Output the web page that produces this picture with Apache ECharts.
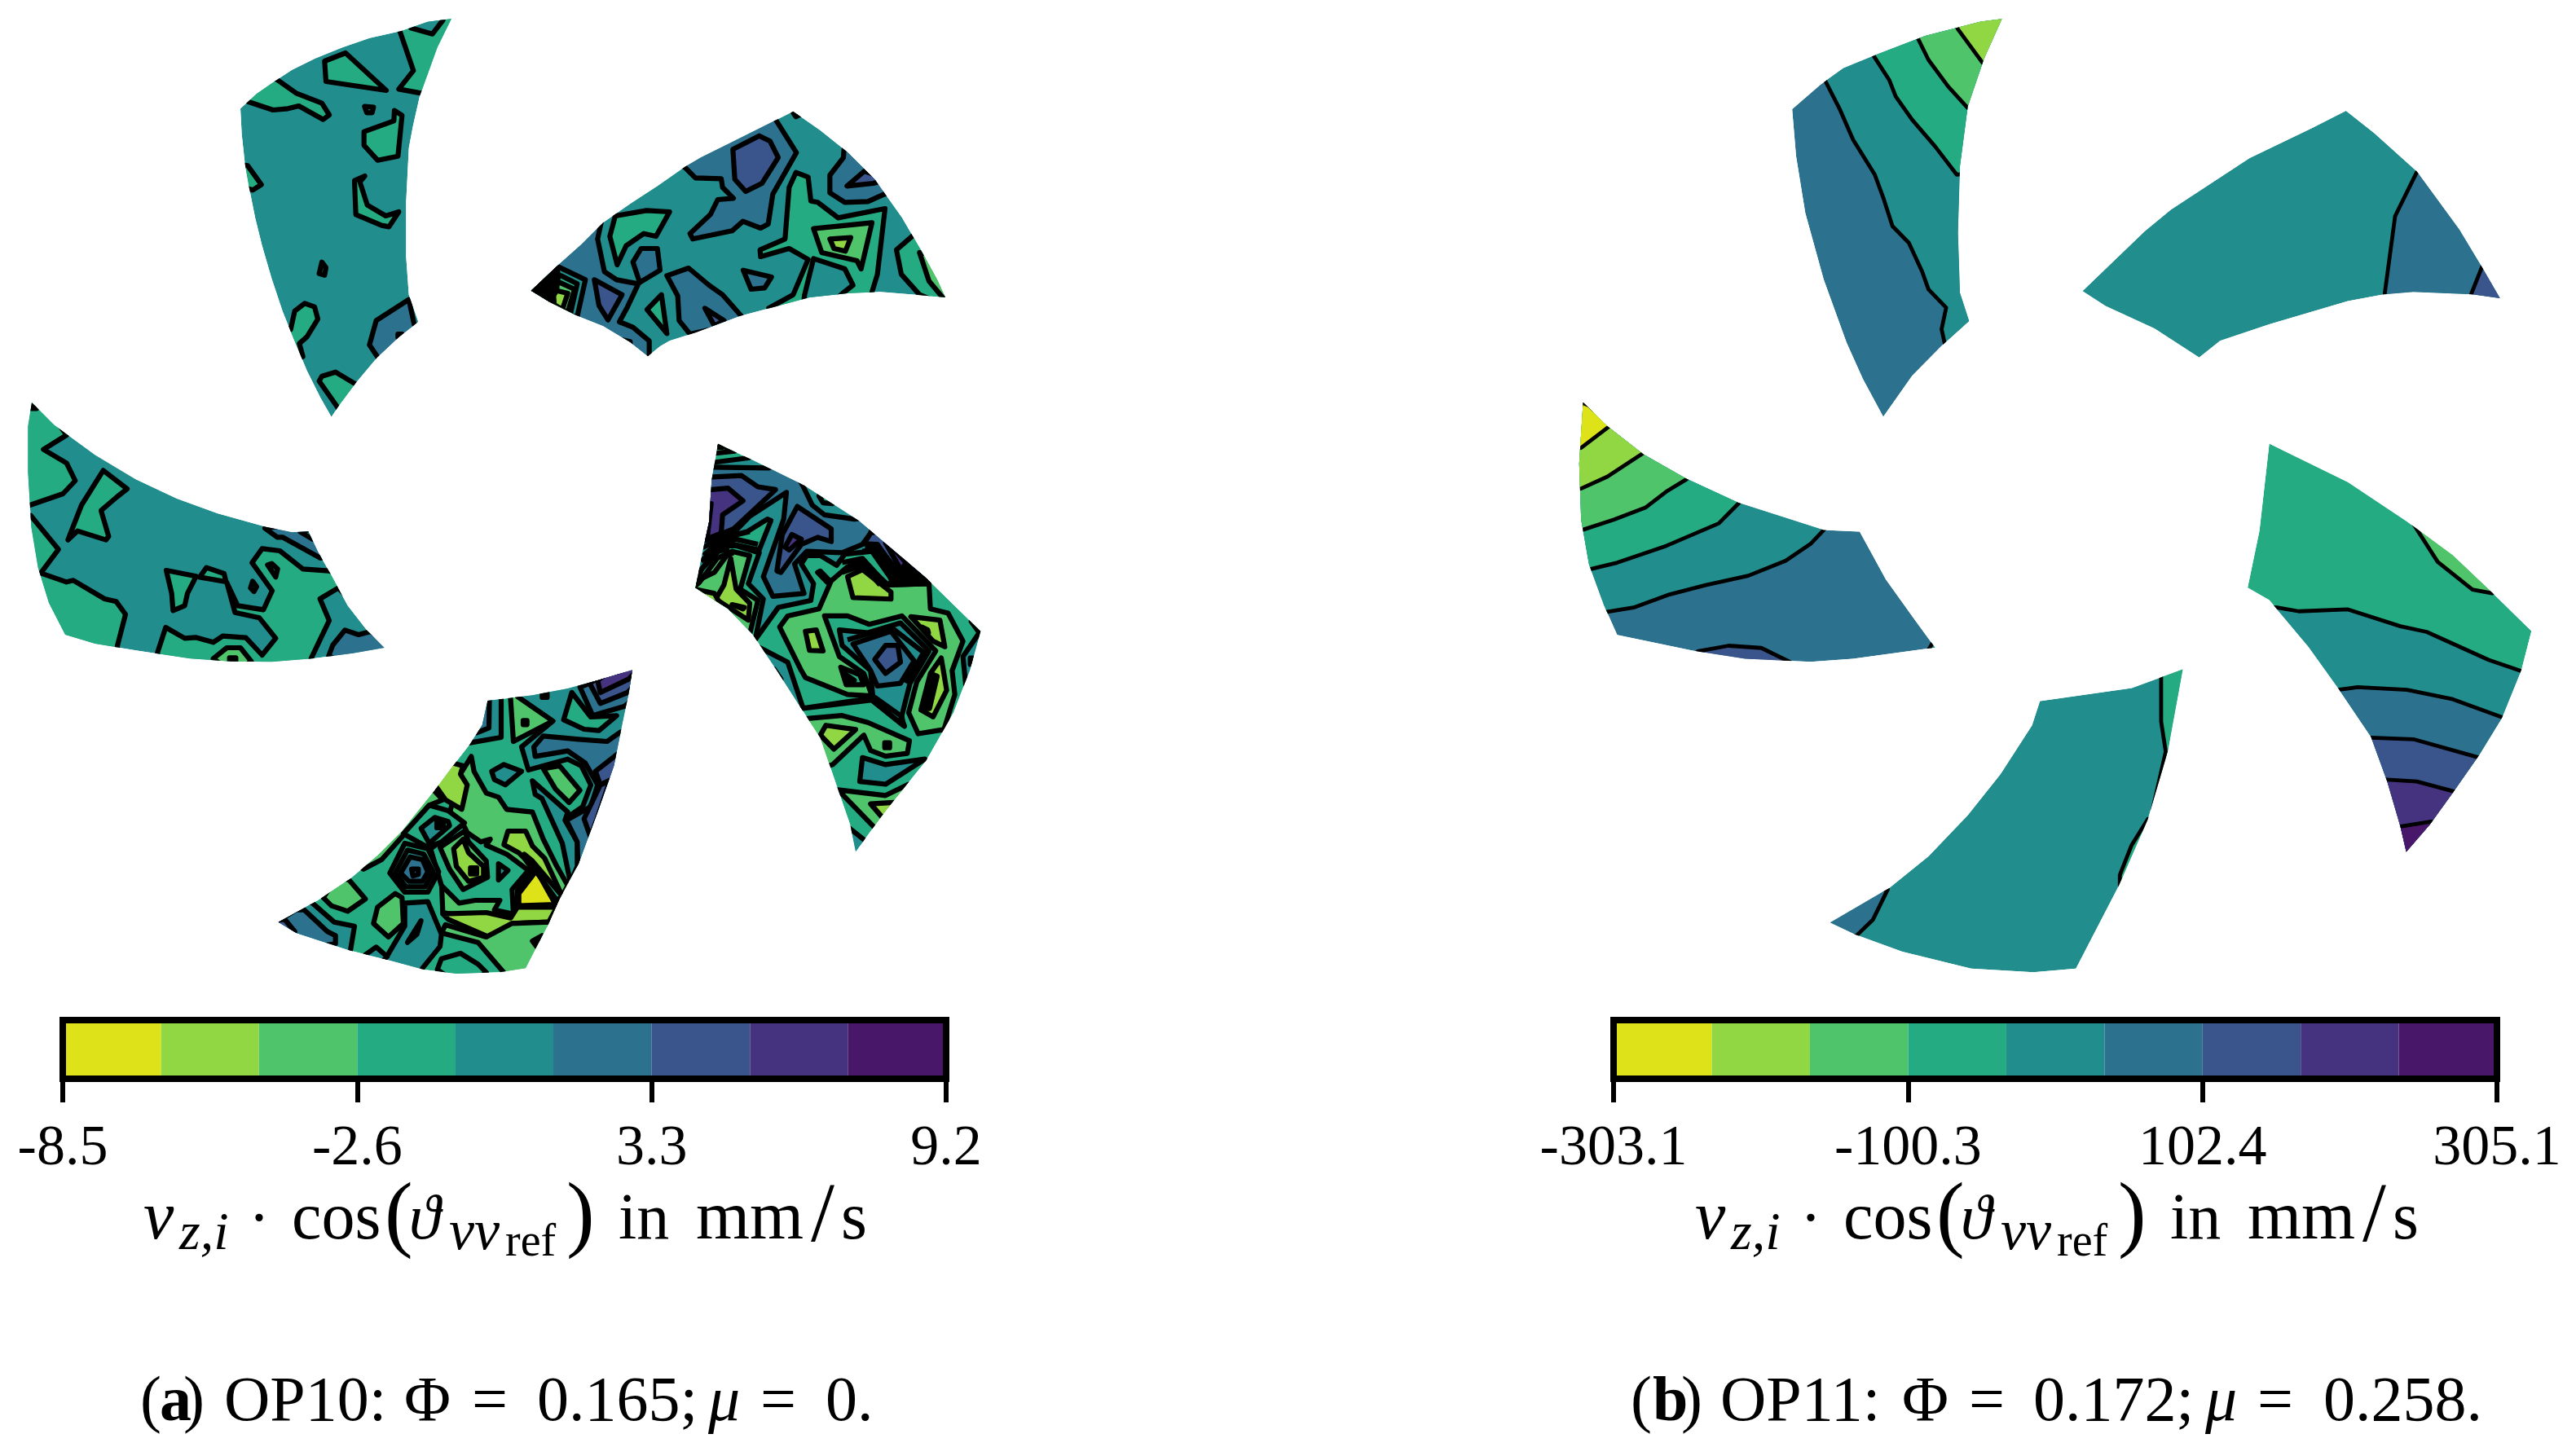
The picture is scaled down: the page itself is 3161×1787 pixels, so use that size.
<!DOCTYPE html>
<html>
<head>
<meta charset="utf-8">
<title>OP10 OP11</title>
<style>
  html, body { margin: 0; padding: 0; background: #fff; }
  #main { width: 3161px; height: 1787px; }
</style>
<script src="https://cdn.jsdelivr.net/npm/echarts@6/dist/echarts.min.js"></script>
</head>
<body>
<div id="main"></div>
<script>
// contour levels, yellow to purple
var levelColors = ["#dde318", "#90d743", "#50c46a", "#25ab82", "#218e8d", "#2c728e", "#3a548c", "#46337f", "#481769"];
var BLACK = 9;
var LINE = 10; // contour line only, no fill
var levelsA = [-8.5, -6.53, -4.57, -2.6, -0.63, 1.33, 3.3, 5.27, 7.23, 9.2];
var levelsB = [-303.1, -235.5, -167.9, -100.3, -32.7, 35, 102.4, 170, 237.5, 305.1];
var ticksA = [-8.5, -2.6, 3.3, 9.2];
var ticksB = [-303.1, -100.3, 102.4, 305.1];

// blade a1 (top left)
var outlineA1 = [822,24, 735,35, 640,68, 520,95, 420,130, 320,170, 235,212, 170,255, 105,300, 45,355, 50,450, 62,560, 78,650, 100,760, 125,860, 160,980, 200,1100, 240,1200, 290,1320, 340,1420, 380,1490, 410,1445, 470,1365, 550,1270, 630,1195, 700,1140, 665,1040, 655,900, 655,700, 665,500, 680,420, 705,310, 770,130];
var regionsA1 = [
  [3, [625,40, 632,70, 682,215, 628,283, 710,298, 800,310, 880,10, 640,10]],
  [4, [790,30, 752,80, 672,58, 660,20, 800,0]],
  [3, [355,180, 432,150, 582,288, 360,255]],
  [3, [182,250, 250,298, 345,335, 372,378, 350,395, 260,345, 220,355, 165,360, 75,330, 20,300, 100,200]],
  [4, [502,347, 535,350, 530,370, 510,370]],
  [3, [612,362, 640,380, 625,530, 550,545, 500,490, 500,440, 610,400]],
  [3, [72,565, 122,635, 90,655, 40,640, 40,560]],
  [3, [465,620, 503,603, 485,625, 512,710, 580,750, 628,735, 592,790, 565,785, 470,745]],
  [4, [345,920, 360,940, 355,968, 335,962]],
  [3, [230,1168, 245,1100, 282,1072, 318,1085, 330,1130, 290,1195, 262,1220, 275,1268, 200,1300, 170,1150]],
  [5, [665,1058, 685,1150, 750,1180, 600,1300, 550,1270, 520,1225, 545,1135]],
  [BLACK, [625,1185, 640,1185, 640,1197, 625,1197]],
  [3, [470,1370, 395,1325, 345,1340, 335,1358, 405,1458, 420,1520, 520,1450]]
];

// blade a2 (top right)
var outlineA2 = [35,680, 130,590, 220,510, 300,430, 400,360, 500,295, 600,225, 660,190, 760,140, 880,80, 1000,20, 1100,90, 1200,170, 1300,270, 1400,410, 1470,530, 1530,640, 1560,705, 1450,695, 1320,685, 1200,690, 1060,705, 950,735, 800,775, 640,835, 545,865, 510,885, 465,922, 400,870, 300,810, 200,770, 100,720];
var regionsA2 = [
  [5, [295,420, 280,490, 305,610, 350,640, 430,655, 390,740, 360,795, 410,815, 470,865, 470,950, 300,950, 0,700, 100,500]],
  [4, [130,590, 235,640, 205,775, 150,770, 20,690, 110,590]],
  [3, [145,625, 205,655, 180,765, 20,690]],
  [2, [140,650, 195,675, 170,760, 30,690]],
  [1, [130,680, 170,690, 150,750, 100,720]],
  [BLACK, [128,590, 100,610, 35,680, 120,725, 118,700, 130,670, 135,620]],
  [6, [268,640, 370,695, 318,788, 285,735]],
  [3, [345,405, 460,385, 545,390, 495,480, 450,470, 385,515, 352,585, 325,480]],
  [5, [410,575, 440,525, 500,525, 510,605, 435,650]],
  [3, [515,695, 535,838, 462,750]],
  [5, [535,625, 615,597, 690,660, 740,695, 810,775, 800,800, 620,840, 580,790, 575,700]],
  [6, [675,745, 745,790, 710,810]],
  [5, [600,225, 640,265, 735,268, 740,300, 780,340, 722,345, 695,400, 620,470, 630,490, 775,460, 815,425, 880,450, 908,435, 925,325, 1012,172, 935,50, 900,20, 500,200]],
  [6, [778,160, 875,110, 915,130, 945,190, 885,285, 825,315, 785,270]],
  [3, [1010,245, 985,300, 970,490, 878,530, 880,555, 985,525, 1055,565, 1000,695, 910,745, 1000,800, 1280,760, 1290,685, 1310,620, 1338,378, 1165,412, 1090,355, 1065,350, 1055,262]],
  [4, [1075,562, 1190,600, 1220,660, 1182,690, 1100,760, 1040,710, 1042,695]],
  [2, [1075,452, 1290,430, 1250,600, 1235,570, 1105,540]],
  [1, [1135,490, 1212,485, 1192,535, 1150,525]],
  [5, [1187,158, 1185,190, 1135,255, 1135,320, 1190,355, 1275,352, 1335,325, 1500,300, 1250,100]],
  [6, [1262,240, 1198,295, 1295,285, 1350,270]],
  [3, [1440,478, 1380,530, 1398,620, 1465,695, 1600,750, 1620,600, 1500,450]],
  [2, [1465,540, 1500,645, 1550,705, 1600,720, 1600,560]],
  [5, [816,605, 920,630, 895,670, 845,675]],
  [4, [1000,25, 1010,40, 1025,32]],
  [5, [372,862, 400,868, 400,882, 375,870]]
];

// blade a3 (left)
var outlineA3 = [117,42, 200,125, 350,235, 500,325, 650,395, 800,450, 980,500, 1075,520, 1135,517, 1170,590, 1215,670, 1280,790, 1350,880, 1415,945, 1300,965, 1150,985, 1000,997, 850,995, 700,985, 500,955, 350,930, 240,897, 180,780, 140,650, 115,500, 103,300, 103,130];
var regionsA3 = [
  [3, [245,162, 160,215, 245,265, 277,330, 232,378, 110,420, 50,420, 50,20, 150,30]],
  [3, [380,292, 468,360, 430,390, 372,440, 400,535, 390,548, 285,515, 250,548, 300,420]],
  [3, [113,458, 215,583, 150,670, 245,703, 270,697, 385,765, 428,775, 462,822, 432,938, 432,1000, 200,960, 50,700, 60,460]],
  [3, [612,660, 722,682, 690,745, 680,790, 637,808, 632,745]],
  [3, [735,685, 760,650, 825,672, 832,702]],
  [3, [1210,662, 1115,655, 1030,588, 965,580, 928,632, 1002,735, 970,805, 875,790, 835,705, 865,815, 955,835, 1015,910, 965,972, 905,908, 820,902, 785,925, 720,907, 680,910, 610,870, 580,962, 580,1050, 1160,1050, 1145,985, 1195,880, 1212,845, 1178,765, 1245,725, 1300,780, 1300,680]],
  [5, [1210,975, 1225,935, 1270,880, 1320,897, 1365,885, 1450,950, 1300,1020]],
  [5, [975,505, 1020,538, 1040,538, 1180,615, 1250,600, 1150,480]],
  [4, [1105,518, 1150,545, 1180,500]],
  [4, [985,640, 1000,635, 1022,655, 1015,685]],
  [4, [930,700, 945,720, 935,738, 922,725]],
  [2, [785,985, 835,945, 885,945, 925,995, 860,1040]],
  [BLACK, [845,982, 868,982, 868,994, 845,994]],
  [BLACK, [115,52, 135,52, 135,64, 115,64]]
];

// blade a4 (right)
var outlineA4 = [183,72, 300,125, 500,220, 700,345, 950,550, 1150,740, 1110,880, 1050,1030, 950,1200, 800,1380, 690,1525, 670,1430, 620,1290, 560,1120, 480,1000, 400,880, 310,750, 220,660, 100,585, 130,440, 150,350, 160,200];
var regionsA4 = [
  [2, [600,560, 660,510, 715,490, 810,575, 960,570, 965,660, 1030,675, 1085,775, 1045,880, 1055,965, 1015,1090, 920,1105, 885,1030, 915,920, 985,810, 860,685, 740,715, 660,685, 575,685, 630,830, 720,890, 750,970, 660,965, 505,905, 490,880, 410,725, 440,685, 555,660]],
  [1, [893,688, 1000,700, 1018,795, 975,775]],
  [0, [935,725, 955,735, 958,745]],
  [1, [1005,835, 1025,950, 975,1045, 930,1020, 965,890]],
  [2, [978,895, 990,900, 962,1015, 948,1015]],
  [4, [630,735, 735,745, 855,710, 960,810, 890,925, 860,1040, 865,1075, 755,990, 750,940, 745,880, 640,790]],
  [LINE, [660,770, 820,725, 940,815, 875,925]],
  [5, [680,785, 820,740, 905,845, 855,925, 770,935, 745,880]],
  [6, [760,840, 800,790, 845,790, 855,850, 800,890]],
  [4, [490,1015, 750,985, 870,1078, 855,1040, 760,975, 700,985]],
  [1, [505,740, 545,735, 570,810, 520,808]],
  [3, [635,868, 705,895, 720,930, 655,930]],
  [1, [652,892, 685,915, 660,915]],
  [1, [660,545, 715,520, 820,600, 820,625, 680,620]],
  [2, [520,1050, 640,1040, 735,1065, 888,1130, 880,1175, 800,1185, 745,1165, 720,1110, 605,1215, 500,1250, 450,1060]],
  [1, [560,1110, 580,1075, 690,1090, 610,1160]],
  [BLACK, [797,1137, 815,1137, 815,1155, 797,1155]],
  [4, [715,1190, 800,1215, 945,1195, 800,1285, 705,1275]],
  [2, [625,1305, 800,1325, 885,1285, 1000,1300, 800,1500, 765,1445, 640,1320]],
  [1, [745,1355, 830,1350, 870,1400, 785,1400]],
  [4, [665,1440, 730,1490, 700,1600, 600,1500]],
  [4, [1115,705, 1145,745, 1085,830, 1095,930, 1300,950, 1300,700]],
  [BLACK, [1112,835, 1130,835, 1130,858, 1112,858]],
  [4, [320,790, 440,850, 495,1010, 450,1050, 250,800]],
  [4, [390,875, 415,910, 405,915, 385,885]],
  // upper half, painted from the outer band inwards
  [4, [150,140, 295,122, 400,60, 1100,500, 960,560, 830,572, 815,545, 750,455, 650,465, 620,505, 560,470, 510,470, 490,500, 535,570, 525,630, 405,655, 320,770, 270,760, 50,600, 50,140]],
  [4, [550,530, 560,525, 595,560, 585,565]],
  [3, [320,770, 350,625, 295,570, 335,460, 250,435, 190,435, 125,515, 105,560, 50,600, 100,640, 280,770]],
  [3, [190,435, 250,395, 290,385, 365,340, 378,345, 335,450, 250,432]],
  [2, [300,750, 330,630, 265,590, 300,470, 235,455, 180,480, 115,565, 50,620, 280,745]],
  [1, [230,480, 250,590, 300,640, 295,700, 175,625, 205,575]],
  [1, [100,590, 170,605, 190,640, 120,640]],
  [0, [235,645, 280,655, 275,660]],
  [5, [100,155, 165,155, 370,158, 440,130, 495,220, 530,290, 575,325, 685,340, 760,330, 745,390, 715,430, 640,460, 510,455, 465,500, 500,605, 385,615, 350,545, 425,340, 435,245, 300,330, 250,380, 130,440, 90,400]],
  [6, [100,190, 165,190, 270,185, 330,225, 395,235, 240,375, 140,415, 100,420]],
  [7, [160,235, 220,230, 275,275, 200,325, 195,390, 145,410, 100,400, 100,235]],
  [7, [158,285, 145,395, 100,395, 100,285]],
  [6, [475,295, 600,375, 600,420, 550,405, 490,430, 415,530, 400,525, 420,395]],
  [7, [430,440, 455,395, 490,412, 445,450]],
  [6, [745,390, 720,428, 770,430, 840,530, 900,560, 1000,540, 800,380]],
  [7, [800,425, 850,510, 910,545, 1000,520, 830,420]],
  [8, [830,445, 870,490, 900,480, 845,440]],
  [BLACK, [810,575, 950,570, 880,490, 850,530]],
  [3, [555,258, 570,282, 605,285, 620,250]],
  [2, [183,72, 245,98, 175,105, 100,100, 150,40]],
  [BLACK, [180,70, 198,70, 198,84, 180,84]],
  // tightly packed contours at the left tip and along the upper edge
  [LINE, [130,470, 180,425, 255,395, 300,385]],
  [LINE, [120,490, 185,438, 250,412, 330,430]],
  [LINE, [112,530, 185,455, 225,445]],
  [LINE, [105,560, 170,530, 215,470, 240,460]],
  [LINE, [640,495, 715,480, 800,570]],
  [LINE, [715,455, 760,445, 825,530, 860,570]],
  [LINE, [725,435, 775,440, 840,520, 880,565]],
  [LINE, [640,530, 715,505, 780,575]]
];

// blade a5 (bottom)
var outlineA5 = [1368,67, 1240,105, 1130,135, 1000,160, 835,180, 815,270, 770,340, 700,430, 640,510, 520,660, 430,750, 330,835, 210,915, 65,995, 130,1035, 330,1100, 470,1135, 600,1170, 720,1185, 880,1180, 975,1165, 1060,1000, 1100,910, 1170,780, 1240,590, 1300,420, 1330,270, 1355,150];
var regionsA5 = [
  [2, [735,450, 775,385, 785,440, 830,520, 875,535, 905,580, 1000,590, 1040,690, 1090,790, 1130,860, 1100,920, 1060,1000, 1100,1100, 900,1000, 670,960, 660,720]],
  [4, [945,165, 1075,255, 960,350, 985,435, 1130,395, 1180,420, 1215,490, 1185,570, 1120,615, 1165,700, 1165,790, 1200,800, 1400,400, 1400,50, 1000,100]],
  [4, [1000,475, 1130,590, 1120,620, 1165,700, 1165,790, 1140,850, 1110,705, 1035,540, 1010,525]],
  [5, [1005,350, 1040,310, 1170,322, 1275,330, 1325,295, 1420,290, 1300,800, 1168,795, 1165,700, 1125,620, 1215,570, 1240,490, 1195,410, 1130,365, 1010,385]],
  [2, [1040,430, 1100,420, 1175,510, 1135,555, 1085,505]],
  [6, [1315,375, 1232,440, 1250,490, 1290,470, 1400,400]],
  [6, [1190,615, 1250,490, 1285,475, 1237,618, 1213,680]],
  [3, [1145,150, 1115,250, 1190,285, 1245,290, 1310,235, 1215,240]],
  [5, [1175,130, 1222,235, 1340,200, 1400,150, 1300,80]],
  [6, [1210,115, 1250,190, 1350,150, 1400,100, 1300,70]],
  [7, [1240,105, 1250,150, 1355,100, 1400,50, 1300,60]],
  [2, [918,150, 945,150, 945,165, 1075,255, 930,330]],
  [BLACK, [966,253, 980,253, 980,268, 966,268]],
  [4, [885,150, 885,315, 770,335, 700,300, 780,150]],
  [5, [842,150, 840,280, 795,298, 750,250, 800,150]],
  [BLACK, [1036,152, 1054,152, 1054,168, 1036,168]],
  [4, [850,440, 895,415, 960,440, 900,490, 860,470]],
  [1, [710,410, 745,420, 735,450, 760,490, 740,580, 680,545, 648,500, 600,450]],
  [2, [378,800, 445,765, 530,670, 620,565, 670,545, 600,470, 300,750]],
  [3, [625,725, 745,635, 760,665, 810,700, 845,690, 830,712, 905,745, 985,805, 925,875, 930,965, 860,950, 880,915, 790,915, 730,925, 665,860]],
  [2, [660,720, 750,660, 765,700, 830,770, 835,830, 745,875, 695,800]],
  [1, [710,725, 745,690, 765,740, 820,790, 820,830, 765,845, 720,790]],
  [BLACK, [772,795, 795,795, 795,818, 772,818]],
  [4, [875,780, 910,805, 875,840]],
  [1, [895,710, 910,660, 975,660, 1000,715, 1045,760, 1110,900, 1090,945, 945,940, 945,880, 1000,800, 970,760, 950,740]],
  [0, [1015,805, 1085,930, 950,935, 950,890]],
  [3, [970,745, 1000,770, 1110,900, 1090,915, 1000,790]],
  [1, [670,965, 690,985, 840,1050, 925,1000, 1060,995, 1090,940, 945,940, 920,980, 830,960]],
  [2, [680,1005, 830,1050, 925,1000, 1065,995, 1100,1100, 950,1250, 890,1175, 800,1070, 665,1035]],
  [3, [1000,1065, 1035,1045, 1015,1085]],
  [3, [650,1170, 665,1130, 735,1110, 800,1150, 830,1180, 750,1240]],
  [4, [530,925, 615,920, 665,1040, 660,1085, 595,1165, 590,1250, 440,1150, 465,1120, 530,1010]],
  [4, [385,1115, 425,1087, 465,1122, 420,1170]],
  [5, [540,1070, 590,990, 575,1040]],
  [2, [415,1000, 430,940, 495,890, 520,905, 525,1000, 470,1050]],
  [2, [325,840, 385,910, 320,955, 260,935, 230,905, 280,830]],
  [4, [190,925, 270,995, 345,1010, 330,1100, 300,1200, 50,1040, 100,900]],
  [5, [160,950, 245,1030, 275,1045, 275,1075, 100,1100, 50,1000, 130,950]],
  [6, [88,985, 125,1030, 60,1040, 40,990]],
  [3, [530,705, 615,725, 655,810, 615,885, 530,885, 475,815]],
  [4, [540,730, 600,745, 635,810, 605,865, 535,865, 495,815]],
  [5, [550,755, 595,765, 615,810, 595,845, 545,845, 515,815]],
  [6, [555,800, 580,800, 580,820, 560,825]],
  [3, [525,670, 620,565, 690,585, 750,630, 665,700, 615,720]],
  [4, [590,650, 640,610, 690,625, 695,640, 620,705]],
  [BLACK, [648,625, 672,625, 672,648, 648,648]]
];

var outlineB1 = [692,57, 660,65, 575,108, 500,165, 450,205, 415,255, 372,328, 378,470, 392,640, 420,840, 455,1030, 480,1140, 511,1253, 555,1130, 600,1040, 642,965, 628,880, 625,700, 628,500, 640,320, 665,175];
var regionsB1 = [
  [4, [423,245, 445,330, 465,420, 498,525, 512,600, 525,680, 550,730, 570,815, 580,870, 607,925, 600,990, 605,1035, 700,1050, 800,500, 750,0, 400,100]],
  [3, [497,170, 520,240, 530,290, 555,360, 590,440, 623,525, 750,500, 750,0, 480,100]],
  [2, [565,120, 580,180, 610,260, 640,325, 750,320, 750,0, 550,50]],
  [1, [625,88, 663,190, 750,190, 750,0, 610,30]]
];
var outlineB2 = [1217,333, 1165,385, 1070,475, 950,630, 910,695, 815,875, 850,920, 925,988, 993,1075, 1025,1025, 1100,975, 1220,905, 1275,885, 1320,878, 1410,885, 1452,897, 1425,805, 1390,690, 1325,515, 1260,400];
var regionsB2 = [
  [5, [1325,518, 1292,650, 1276,885, 1300,950, 1500,950, 1500,450]],
  [6, [1425,800, 1408,885, 1420,950, 1500,950, 1500,780]]
];
var outlineB3 = [53,-13, 90,50, 145,125, 210,190, 290,255, 420,328, 475,332, 515,460, 560,570, 590,642, 465,672, 400,680, 300,672, 220,650, 105,608, 85,530, 62,420, 50,300, 47,150];
var regionsB3 = [
  [4, [420,328, 400,365, 362,410, 305,450, 240,475, 185,500, 130,535, 88,547, 0,560, 0,-50, 450,250]],
  [3, [290,257, 260,310, 180,370, 105,415, 65,432, 0,440, 0,-50, 320,200]],
  [2, [210,193, 180,225, 148,268, 100,300, 53,327, 0,340, 0,-50, 240,150]],
  [1, [145,122, 125,145, 90,185, 50,217, 0,230, 0,-50, 170,90]],
  [0, [92,52, 50,108, 0,120, 0,-50, 110,30]],
  [6, [228,652, 275,637, 325,643, 368,680, 350,720, 200,700]],
  [4, [580,648, 587,628, 620,640, 610,660]]
];
var outlineB4 = [1100,97, 1220,200, 1310,305, 1380,395, 1440,495, 1500,598, 1485,700, 1455,830, 1420,930, 1380,1030, 1345,1115, 1309,1188, 1300,1120, 1280,1000, 1255,880, 1205,750, 1160,640, 1100,515, 1067,482, 1085,330];
var regionsB4 = [
  [2, [1320,312, 1357,413, 1410,487, 1440,497, 1500,450, 1360,280]],
  [4, [1112,535, 1145,545, 1220,540, 1300,585, 1340,600, 1435,675, 1485,705, 1560,750, 1500,1300, 1250,1300, 1050,530]],
  [5, [1205,755, 1235,748, 1310,755, 1380,780, 1455,828, 1520,850, 1500,1300, 1250,1300, 1150,760]],
  [6, [1255,883, 1320,887, 1418,935, 1500,950, 1500,1300, 1230,1300, 1200,880]],
  [7, [1280,995, 1325,1000, 1383,1027, 1480,1040, 1400,1300, 1240,1300, 1230,990]],
  [8, [1300,1120, 1347,1107, 1400,1120, 1350,1300, 1250,1300, 1260,1120]]
];
var outlineB5 = [968,700, 890,750, 750,785, 738,850, 690,980, 640,1090, 580,1200, 520,1285, 430,1377, 470,1410, 540,1455, 645,1500, 740,1510, 805,1500, 870,1280, 915,1100, 945,920];
var regionsB5 = [
  [3, [935,720, 935,840, 942,920, 922,1075, 1050,1075, 1050,650, 930,650]],
  [3, [915,1100, 890,1170, 872,1250, 872,1278, 950,1200]],
  [5, [518,1288, 495,1370, 470,1412, 400,1420, 430,1300]]
];

// crop = page rect [left, top, width, height] and the units its blades were read in
var crops = {
  a1: { rect: [280, 15, 290, 500], units: [870, 1500] },
  a2: { rect: [640, 130, 520, 310], units: [1560, 930] },
  a3: { rect: [0, 480, 500, 360], units: [1500, 1080] },
  a4: { rect: [820, 520, 400, 540], units: [1200, 1568] },
  a5: { rect: [320, 800, 480, 400], units: [1440, 1200] },
  bTop: { rect: [1900, 0, 1261, 640], units: [1568, 1568] },
  bLow: { rect: [1900, 500, 1261, 720], units: [1568, 1568] }
};
var blades = [
  { crop: "a1", base: 4, lw: 6.2, outline: outlineA1, regions: regionsA1 },
  { crop: "a2", base: 4, lw: 6.2, outline: outlineA2, regions: regionsA2 },
  { crop: "a3", base: 4, lw: 6.2, outline: outlineA3, regions: regionsA3 },
  { crop: "a4", base: 3, lw: 6.2, outline: outlineA4, regions: regionsA4 },
  { crop: "a5", base: 3, lw: 6.2, outline: outlineA5, regions: regionsA5 },
  { crop: "bTop", base: 5, lw: 4.8, outline: outlineB1, regions: regionsB1 },
  { crop: "bTop", base: 4, lw: 4.8, outline: outlineB2, regions: regionsB2 },
  { crop: "bLow", base: 5, lw: 4.8, outline: outlineB3, regions: regionsB3 },
  { crop: "bLow", base: 3, lw: 4.8, outline: outlineB4, regions: regionsB4 },
  { crop: "bLow", base: 4, lw: 4.8, outline: outlineB5, regions: regionsB5 }
];

// math label pieces: text, left, baseline, size, style
var mathPieces = [
  ["v", 176, 1522, 84, "italic"],
  ["z,i", 220, 1535, 66, "italic"],
  ["·", 305, 1522, 78, ""],
  ["cos", 358, 1522, 82, ""],
  ["(", 472, 1526, 104, ""],
  ["ϑ", 502, 1522, 78, "italic"],
  ["vv", 551, 1535, 70, "italic"],
  ["ref", 620, 1543, 56, ""],
  [")", 695, 1526, 104, ""],
  ["in", 759, 1522, 80, ""],
  ["mm", 854, 1522, 85, ""],
  ["/", 995, 1526, 104, ""],
  ["s", 1032, 1522, 82, ""]
];
var mathOffsetB = 1904;
var captionA = [
  ["(", 172, ""], ["a", 196, "bold"], [")", 225, ""], ["OP10:", 275, ""], ["Φ", 496, ""], ["=", 579, ""],
  ["0.165;", 659, ""], ["μ", 869, "italic"], ["=", 933, ""], ["0.", 1013, ""]
];
var captionB = [
  ["(", 2001, ""], ["b", 2028, "bold"], [")", 2063, ""], ["OP11:", 2111, ""], ["Φ", 2334, ""], ["=", 2416, ""],
  ["0.172;", 2495, ""], ["μ", 2706, "italic"], ["=", 2770, ""], ["0.258.", 2851, ""]
];
var captionBaseline = 1745;
var captionSize = 78;

var grids = [], xAxes = [], yAxes = [], series = [], gridIndex = {};

function flatToCoords(api, flat) {
  var pts = [];
  for (var i = 0; i < flat.length; i += 2) {
    pts.push(api.coord([flat[i], flat[i + 1]]));
  }
  return pts;
}

Object.keys(crops).forEach(function(key) {
  var c = crops[key];
  gridIndex[key] = grids.length;
  grids.push({ left: c.rect[0], top: c.rect[1], width: c.rect[2], height: c.rect[3] });
  xAxes.push({ type: "value", gridIndex: gridIndex[key], min: 0, max: c.units[0], show: false });
  yAxes.push({ type: "value", gridIndex: gridIndex[key], min: 0, max: c.units[1], inverse: true, show: false });
});

blades.forEach(function(blade) {
  // base fill first, then the bands on top, everything cut to the blade outline
  var items = [[blade.base, blade.outline]].concat(blade.regions);
  series.push({
    type: "custom",
    coordinateSystem: "cartesian2d",
    xAxisIndex: gridIndex[blade.crop],
    yAxisIndex: gridIndex[blade.crop],
    silent: true,
    animation: false,
    clip: false,
    data: items.map(function(it, i) { return [i]; }),
    renderItem: function(params, api) {
      var item = items[params.dataIndex];
      var isBase = params.dataIndex === 0;
      var isLine = item[0] === LINE;
      return {
        type: isLine ? "polyline" : "polygon",
        shape: { points: flatToCoords(api, item[1]) },
        clipPath: { type: "polygon", shape: { points: flatToCoords(api, blade.outline) } },
        style: {
          fill: isLine ? null : (item[0] === BLACK ? "#000" : levelColors[item[0]]),
          stroke: isBase ? null : "#000",
          lineWidth: isBase ? 0 : blade.lw,
          lineJoin: "round"
        }
      };
    }
  });
});

// colour bars
function addBar(levels, ticks, left) {
  var g = grids.length;
  grids.push({ left: left, top: 1252, width: 1084, height: 72 });
  xAxes.push({
    type: "value",
    gridIndex: g,
    min: levels[0],
    max: levels[levels.length - 1],
    splitLine: { show: false },
    axisLine: { show: false },
    axisTick: { show: true, length: 29, customValues: ticks, lineStyle: { color: "#000", width: 6 } },
    axisLabel: {
      customValues: ticks,
      margin: 52,
      color: "#000",
      fontFamily: "Liberation Serif",
      fontSize: 70,
      formatter: function(v) { return v.toFixed(1); }
    }
  });
  yAxes.push({ type: "value", gridIndex: g, min: 0, max: 1, show: false });
  series.push({
    type: "custom",
    xAxisIndex: g,
    yAxisIndex: g,
    silent: true,
    animation: false,
    data: levelColors.map(function(c, i) { return [levels[i], levels[i + 1]]; }),
    renderItem: function(params, api) {
      var a = api.coord([api.value(0), 1]);
      var b = api.coord([api.value(1), 0]);
      return {
        type: "rect",
        shape: { x: a[0], y: a[1], width: b[0] - a[0], height: b[1] - a[1] },
        style: { fill: levelColors[params.dataIndex] }
      };
    }
  });
  series.push({
    type: "custom",
    xAxisIndex: g,
    yAxisIndex: g,
    silent: true,
    animation: false,
    z: 5,
    data: [[levels[0], levels[levels.length - 1]]],
    renderItem: function(params, api) {
      var a = api.coord([api.value(0), 1]);
      var b = api.coord([api.value(1), 0]);
      return {
        type: "rect",
        shape: { x: a[0], y: a[1], width: b[0] - a[0], height: b[1] - a[1] },
        style: { fill: null, stroke: "#000", lineWidth: 8 }
      };
    }
  });
}
addBar(levelsA, ticksA, 77);
addBar(levelsB, ticksB, 1980);

// text placed by its baseline: the line box bottom is about a fifth of the size below it
function textPiece(text, x, baseline, size, fontStyle) {
  return {
    type: "text",
    silent: true,
    x: x,
    y: baseline + size * 0.21,
    style: {
      text: text,
      fill: "#000",
      font: (fontStyle ? fontStyle + " " : "") + size + 'px "Liberation Serif"',
      align: "left",
      verticalAlign: "bottom"
    }
  };
}
var texts = [];
mathPieces.forEach(function(p) {
  texts.push(textPiece(p[0], p[1], p[2], p[3], p[4]));
  texts.push(textPiece(p[0], p[1] + mathOffsetB, p[2], p[3], p[4]));
});
captionA.concat(captionB).forEach(function(p) {
  texts.push(textPiece(p[0], p[1], captionBaseline, captionSize, p[2]));
});

var chart = echarts.init(document.getElementById("main"), null, { renderer: "canvas" });
chart.setOption({
  animation: false,
  backgroundColor: "#fff",
  grid: grids,
  xAxis: xAxes,
  yAxis: yAxes,
  series: series,
  graphic: { elements: texts }
});
</script>
</body>
</html>
